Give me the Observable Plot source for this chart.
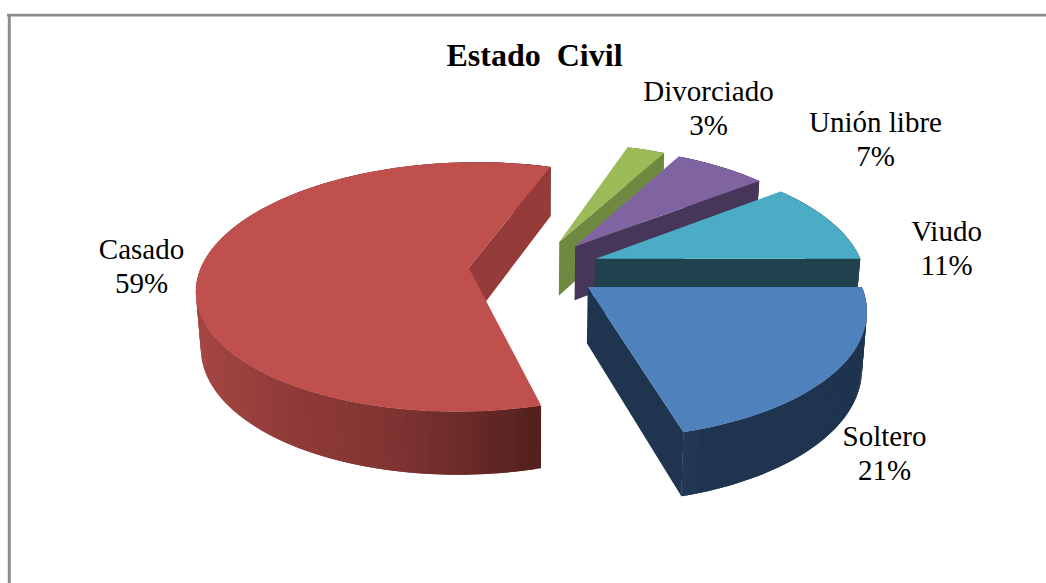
<!DOCTYPE html>
<html><head><meta charset="utf-8">
<script src="https://cdn.jsdelivr.net/npm/d3@7"></script>
<script src="https://cdn.jsdelivr.net/npm/@observablehq/plot@0.6"></script>
<style>html,body{margin:0;padding:0;background:#fff}svg{display:block;white-space:pre}</style>
</head><body><div id="c"></div>
<script>
// Data, in drawing order clockwise from the east edge
const categories = ["Soltero","Casado","Divorciado","Unión libre","Viudo"];
const shares = [20.7,59.4,2.7,6.6,10.6];
const percentLabels = ["21%","59%","3%","7%","11%"];
const topColors = ["#4F81BD","#C0504D","#9BBB59","#8064A2","#4BACC6"];
const sideColors = ["#1F344F","#953B39","#6F8A40","#463659","#1F424E"];
const labelX = [884,141,708,875,946];
const labelY = [452,265,107,138,247];

// Projection of the tilted pie
const ox=533.7, oy=268, ra=268, rb=122, persp=0.154, explode=0.245, depth=56, shrink=0.015, startAngle=90;
const rad=d=>d*Math.PI/180;
function proj(X,Y,low){
  const w=(1+persp*Y)*(low?1+shrink:1);
  return [ox+ra*X/w, oy-rb*Y/w+(low?depth/w:0)];
}
const total=d3.sum(shares);
let cum=startAngle;
const slices=categories.map((name,i)=>{
  const a0=cum, a1=cum+shares[i]/total*360; cum=a1;
  const m=rad((a0+a1)/2);
  return {name,i,a0,a1,ex:explode*Math.sin(m),ey:explode*Math.cos(m)};
});
const polys=[];
let id=0;
function poly(pts,c){const z=id++;pts.forEach(p=>polys.push({x:p[0],y:p[1],z,c}));}
function rim(s,t,low){return proj(s.ex+Math.sin(rad(t)),s.ey+Math.cos(rad(t)),low);}
function apex(s,low){return proj(s.ex,s.ey,low);}
const casadoShade=d3.scaleLinear()
  .domain([540,470,390,300,200])
  .range(["#55211F","#6B2B29","#813533","#8F3A38","#A44643"])
  .clamp(true);
function arcColor(s,t){
  if(s.name==="Casado") return casadoShade(rim(s,t,false)[0]);
  if(s.name==="Soltero"){
    const u=Math.max(0,(t-(s.a1-5))/5);
    return d3.interpolateRgb("#1F344F","#253C5A")(u);
  }
  return sideColors[s.i];
}
function drawSlice(s){
  // outer wall in short overlapping strips
  const n=Math.ceil(s.a1-s.a0);
  for(let k=n-1;k>=0;k--){
    const t0=s.a0+(s.a1-s.a0)*k/n,t1=s.a0+(s.a1-s.a0)*Math.min(n,k+2)/n;
    poly([rim(s,t0,false),rim(s,t1,false),rim(s,t1,true),rim(s,t0,true)],arcColor(s,t0));
  }
  // the radial wall that faces the viewer
  poly([apex(s,false),rim(s,s.a1,false),rim(s,s.a1,true),apex(s,true)],sideColors[s.i]);
  // top
  const pts=[apex(s,false)];
  for(let k=0;k<=n;k++) pts.push(rim(s,s.a0+(s.a1-s.a0)*k/n,false));
  poly(pts,topColors[s.i]);
}
// back to front
["Casado","Divorciado","Unión libre","Viudo","Soltero"].forEach(n=>drawSlice(slices.find(s=>s.name===n)));

const labels=categories.map((c,i)=>({t:c+"\n"+percentLabels[i],x:labelX[i],y:labelY[i]}));
const serif="'Liberation Serif','Times New Roman',serif";
const chart=Plot.plot({
  width:1046,height:583,margin:0,
  x:{domain:[0,1046],range:[0,1046],axis:null},
  y:{domain:[0,583],range:[0,583],axis:null},
  marks:[
    Plot.ruleX([8.8],{y1:14,y2:583,stroke:"#8C8C8C",strokeWidth:3}),
    Plot.ruleY([14.7],{x1:7,x2:1046,stroke:"#8C8C8C",strokeWidth:2.7}),
    Plot.line(polys,{x:"x",y:"y",z:"z",fill:"c",stroke:"none",curve:"linear"}),
    Plot.text(["Estado  Civil"],{x:[534],y:[55],text:d=>d,fontFamily:serif,fontWeight:"bold",fontSize:32,fill:"#000"}),
    Plot.text(labels,{x:"x",y:"y",text:"t",fontFamily:serif,fontSize:29,fill:"#000",lineHeight:1.17,lineAnchor:"middle",textAnchor:"middle"})
  ]
});
document.getElementById("c").appendChild(chart);
</script></body></html>
